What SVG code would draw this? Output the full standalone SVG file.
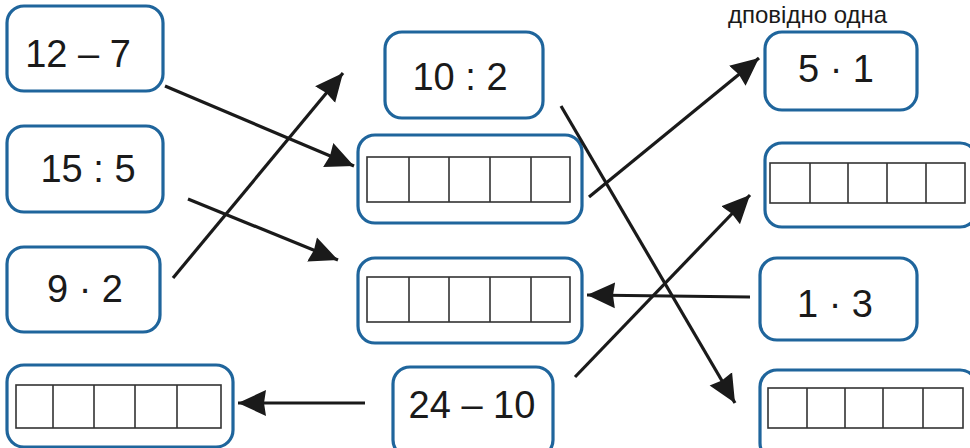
<svg xmlns="http://www.w3.org/2000/svg" width="970" height="448" viewBox="0 0 970 448">
<style>
.box{fill:#fff;stroke:#1f659c;stroke-width:3.2}
.grid{fill:none;stroke:#333;stroke-width:1.6}
.t{font-family:"Liberation Sans",Arial,sans-serif;font-size:38px;fill:#1a1a1a;text-anchor:middle}
.c{stroke:#1a1a1a;stroke-width:3.2;fill:none}
</style>
<defs>
<marker id="ah" markerUnits="userSpaceOnUse" markerWidth="32" markerHeight="28" refX="28" refY="14" orient="auto">
<path d="M0,1 L28,14 L0,27 L2,14 z" fill="#1a1a1a"/>
</marker>
</defs>
<rect width="970" height="448" fill="#fff"/>
<text x="728" y="23" style="font-family:'Liberation Sans',Arial,sans-serif;font-size:24px;fill:#1a1a1a">дповідно одна</text>

<g id="n-12-7"><rect class="box" x="7" y="6" width="156" height="85" rx="17"/><text class="t" x="78" y="67">12 – 7</text></g>
<g id="n-15-5"><rect class="box" x="7" y="126" width="156" height="86" rx="17"/><text class="t" x="88" y="182">15 : 5</text></g>
<g id="n-9-2"><rect class="box" x="7" y="247" width="153" height="85" rx="17"/><text class="t" x="85" y="302">9 · 2</text></g>
<g id="n-ans-bl"><rect class="box" x="7" y="365" width="226" height="82" rx="17"/>
<rect class="grid" x="16" y="385" width="205" height="43"/>
<path class="grid" d="M53,385V428M94,385V428M135,385V428M177,385V428"/></g>

<g id="n-10-2"><rect class="box" x="385" y="32" width="158" height="86" rx="17"/><text class="t" x="460" y="90">10 : 2</text></g>
<g id="n-ans-m1"><rect class="box" x="358" y="135" width="224" height="88" rx="17"/>
<rect class="grid" x="367" y="157" width="203" height="45"/>
<path class="grid" d="M409,157V202M449,157V202M490,157V202M531,157V202"/></g>
<g id="n-ans-m2"><rect class="box" x="358" y="258" width="224" height="85" rx="17"/>
<rect class="grid" x="367" y="277" width="203" height="45"/>
<path class="grid" d="M409,277V322M449,277V322M490,277V322M531,277V322"/></g>
<g id="n-24-10"><rect class="box" x="393" y="367" width="160" height="90" rx="17"/><text class="t" x="472" y="418">24 – 10</text></g>

<g id="n-5-1"><rect class="box" x="765" y="32" width="152" height="78" rx="17"/><text class="t" x="836" y="82">5 · 1</text></g>
<g id="n-ans-r1"><rect class="box" x="765" y="143" width="212" height="84" rx="17"/>
<rect class="grid" x="770" y="163" width="195" height="40"/>
<path class="grid" d="M810,163V203M848,163V203M887,163V203M926,163V203"/></g>
<g id="n-1-3"><rect class="box" x="760" y="258" width="157" height="82" rx="17"/><text class="t" x="835" y="317">1 · 3</text></g>
<g id="n-ans-r2"><rect class="box" x="760" y="370" width="217" height="90" rx="17"/>
<rect class="grid" x="768" y="388" width="195" height="40"/>
<path class="grid" d="M807,388V428M845,388V428M883,388V428M923,388V428"/></g>

<g id="connectors">
<line class="c" x1="165" y1="86" x2="354" y2="166" marker-end="url(#ah)"/>
<line class="c" x1="188" y1="199" x2="338" y2="260" marker-end="url(#ah)"/>
<line class="c" x1="173" y1="278" x2="343" y2="73" marker-end="url(#ah)"/>
<line class="c" x1="365" y1="403" x2="238" y2="403" marker-end="url(#ah)"/>
<line class="c" x1="561" y1="106" x2="735" y2="403" marker-end="url(#ah)"/>
<line class="c" x1="589" y1="197" x2="759" y2="58" marker-end="url(#ah)"/>
<line class="c" x1="575" y1="377" x2="750" y2="195" marker-end="url(#ah)"/>
<line class="c" x1="750" y1="297" x2="587" y2="295" marker-end="url(#ah)"/>
</g>
</svg>
